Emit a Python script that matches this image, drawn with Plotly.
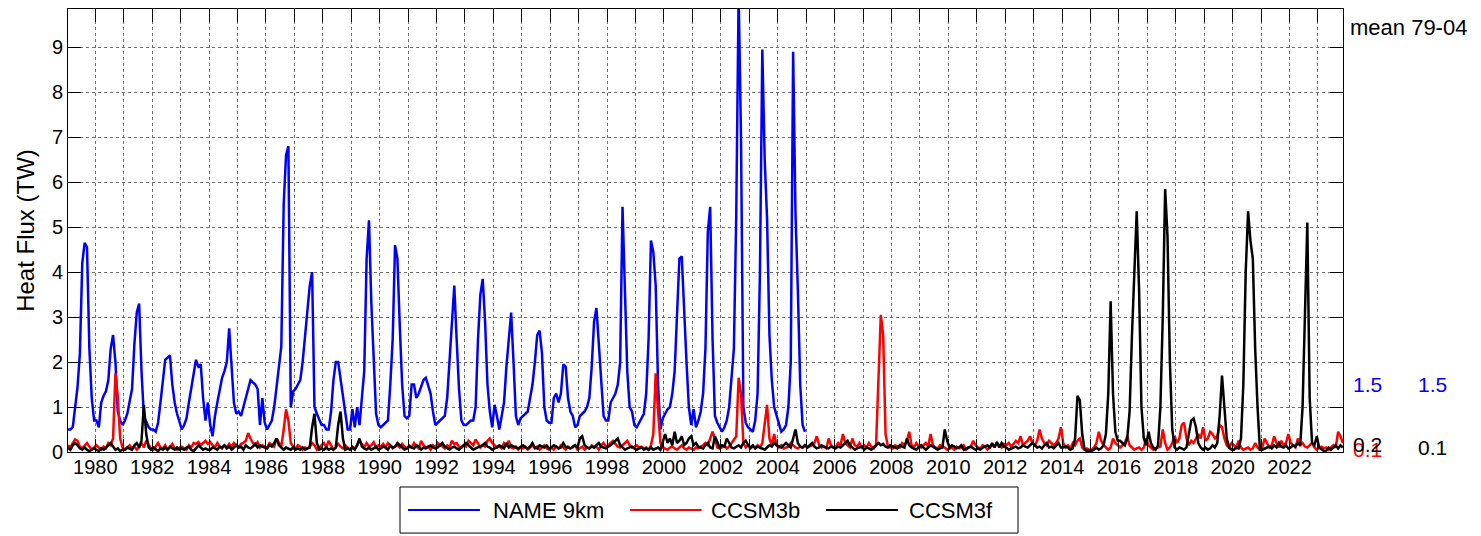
import plotly.graph_objects as go

# Monthly values, one row per year starting January 1979
name_9km = [
    [0.5, 0.5, 0.55, 1.0, 1.45, 2.2, 4.2, 4.65, 4.55, 2.3, 1.2, 0.7],      # 1979
    [0.7, 0.55, 1.1, 1.25, 1.35, 1.6, 2.3, 2.6, 2.0, 0.9, 0.7, 0.6],       # 1980
    [0.7, 0.85, 1.1, 1.4, 2.4, 3.1, 3.3, 1.8, 0.8, 0.65, 0.55, 0.5],       # 1981
    [0.5, 0.45, 0.65, 1.1, 1.6, 2.05, 2.1, 2.15, 1.5, 1.1, 0.85, 0.65],    # 1982
    [0.5, 0.6, 0.75, 1.1, 1.45, 1.8, 2.05, 1.9, 1.95, 1.2, 0.7, 1.1],      # 1983
    [0.6, 0.35, 0.8, 1.1, 1.4, 1.65, 1.8, 2.0, 2.75, 2.0, 1.1, 0.85],      # 1984
    [0.9, 0.8, 1.0, 1.25, 1.45, 1.6, 1.55, 1.5, 1.4, 0.6, 1.2, 0.65],      # 1985
    [0.5, 0.6, 0.7, 1.0, 1.5, 2.0, 2.35, 5.5, 6.6, 6.8, 1.0, 1.35],        # 1986
    [1.4, 1.5, 1.6, 2.0, 2.6, 3.2, 3.7, 4.0, 1.0, 0.85, 0.7, 0.6],         # 1987
    [0.6, 0.5, 0.5, 0.9, 1.6, 2.0, 2.0, 1.6, 1.2, 0.9, 0.5, 0.5],          # 1988
    [0.95, 0.55, 1.0, 0.6, 1.2, 1.8, 4.3, 5.15, 3.3, 1.9, 0.85, 0.6],      # 1989
    [0.55, 0.6, 0.65, 0.7, 1.5, 2.5, 4.6, 4.3, 2.8, 1.5, 0.8, 0.75],       # 1990
    [0.8, 1.5, 1.5, 1.2, 1.3, 1.45, 1.6, 1.65, 1.45, 1.3, 0.9, 0.6],       # 1991
    [0.65, 0.7, 0.75, 0.8, 1.2, 2.0, 3.0, 3.7, 2.5, 1.4, 0.7, 0.6],        # 1992
    [0.6, 0.65, 0.7, 0.7, 1.0, 2.5, 3.5, 3.85, 2.9, 1.5, 0.9, 0.55],       # 1993
    [1.05, 0.8, 0.5, 0.8, 1.1, 1.9, 2.6, 3.1, 2.0, 0.8, 0.6, 0.75],        # 1994
    [0.8, 0.85, 0.9, 1.2, 1.5, 2.0, 2.6, 2.7, 2.2, 1.0, 0.7, 0.65],        # 1995
    [0.65, 1.2, 1.3, 1.1, 1.3, 1.95, 1.9, 1.2, 0.9, 0.8, 0.55, 0.6],       # 1996
    [0.8, 0.85, 0.9, 1.0, 1.2, 1.9, 2.9, 3.2, 2.35, 1.6, 0.8, 0.7],        # 1997
    [0.7, 1.1, 1.2, 1.3, 1.5, 2.0, 5.45, 3.6, 1.8, 1.0, 0.9, 0.6],         # 1998
    [0.55, 0.65, 0.75, 0.85, 1.3, 2.5, 4.7, 4.45, 3.7, 1.5, 0.5, 0.75],    # 1999
    [0.85, 0.95, 1.0, 1.3, 1.8, 3.0, 4.3, 4.35, 3.0, 2.0, 1.0, 0.6],       # 2000
    [0.95, 0.55, 0.7, 0.9, 1.3, 2.3, 4.9, 5.45, 2.5, 0.8, 0.65, 0.55],     # 2001
    [0.45, 0.55, 0.7, 1.0, 1.6, 2.3, 5.3, 10.2, 7.0, 1.0, 0.65, 0.55],     # 2002
    [0.5, 0.45, 0.7, 1.3, 4.0, 8.95, 6.5, 5.2, 2.6, 1.6, 1.0, 0.8],        # 2003
    [0.6, 0.45, 0.5, 0.6, 1.0, 2.0, 8.9, 5.3, 3.6, 1.5, 0.6, 0.45],        # 2004
]

ccsm3b = [
    [0.15, 0.1, 0.2, 0.28, 0.25, 0.12, 0.08, 0.15, 0.2, 0.12, 0.05, 0.1],   # 1979
    [0.15, 0.1, 0.05, 0.12, 0.08, 0.2, 0.15, 0.3, 1.75, 1.2, 0.3, 0.1],     # 1980
    [0.05, 0.1, 0.15, 0.08, 0.12, 0.05, 0.1, 0.2, 0.1, 0.25, 0.15, 0.08],   # 1981
    [0.05, 0.12, 0.2, 0.1, 0.08, 0.15, 0.05, 0.1, 0.18, 0.08, 0.05, 0.1],   # 1982
    [0.12, 0.08, 0.05, 0.15, 0.1, 0.2, 0.18, 0.22, 0.15, 0.2, 0.25, 0.18],  # 1983
    [0.22, 0.15, 0.1, 0.2, 0.12, 0.08, 0.15, 0.1, 0.18, 0.12, 0.2, 0.15],   # 1984
    [0.1, 0.18, 0.2, 0.25, 0.42, 0.3, 0.2, 0.15, 0.22, 0.1, 0.15, 0.12],    # 1985
    [0.1, 0.2, 0.15, 0.12, 0.3, 0.2, 0.12, 0.5, 0.95, 0.7, 0.2, 0.12],      # 1986
    [0.08, 0.15, 0.12, 0.05, 0.1, 0.08, 0.12, 0.2, 0.15, 0.05, 0.1, 0.15],  # 1987
    [0.2, 0.1, 0.25, 0.15, 0.05, 0.1, 0.18, 0.12, 0.08, 0.15, 0.1, 0.05],   # 1988
    [0.12, 0.08, 0.15, 0.25, 0.18, 0.1, 0.2, 0.12, 0.15, 0.22, 0.1, 0.15],  # 1989
    [0.12, 0.18, 0.1, 0.2, 0.15, 0.08, 0.12, 0.15, 0.1, 0.18, 0.12, 0.08],  # 1990
    [0.15, 0.1, 0.2, 0.12, 0.08, 0.25, 0.15, 0.1, 0.12, 0.05, 0.15, 0.1],   # 1991
    [0.2, 0.15, 0.12, 0.08, 0.15, 0.1, 0.25, 0.18, 0.2, 0.12, 0.1, 0.15],   # 1992
    [0.12, 0.25, 0.2, 0.15, 0.28, 0.2, 0.1, 0.15, 0.12, 0.25, 0.3, 0.2],    # 1993
    [0.15, 0.1, 0.12, 0.08, 0.2, 0.15, 0.25, 0.1, 0.08, 0.12, 0.05, 0.1],   # 1994
    [0.08, 0.12, 0.05, 0.1, 0.15, 0.08, 0.12, 0.05, 0.1, 0.15, 0.08, 0.05], # 1995
    [0.1, 0.05, 0.12, 0.08, 0.15, 0.1, 0.05, 0.12, 0.08, 0.1, 0.15, 0.05],  # 1996
    [0.08, 0.12, 0.05, 0.1, 0.08, 0.15, 0.1, 0.12, 0.05, 0.15, 0.2, 0.12],  # 1997
    [0.15, 0.2, 0.25, 0.18, 0.12, 0.1, 0.15, 0.2, 0.25, 0.15, 0.1, 0.12],   # 1998
    [0.15, 0.1, 0.12, 0.08, 0.1, 0.05, 0.15, 0.4, 1.75, 0.9, 0.2, 0.1],     # 1999
    [0.08, 0.05, 0.1, 0.12, 0.08, 0.05, 0.1, 0.15, 0.08, 0.05, 0.1, 0.08],  # 2000
    [0.05, 0.1, 0.08, 0.12, 0.15, 0.2, 0.15, 0.3, 0.45, 0.3, 0.1, 0.08],    # 2001
    [0.1, 0.15, 0.08, 0.12, 0.2, 0.3, 0.35, 1.65, 1.3, 0.2, 0.1, 0.15],     # 2002
    [0.08, 0.12, 0.1, 0.15, 0.1, 0.2, 0.6, 1.05, 0.3, 0.15, 0.4, 0.15],     # 2003
    [0.1, 0.15, 0.08, 0.1, 0.12, 0.2, 0.15, 0.1, 0.08, 0.12, 0.1, 0.15],    # 2004
    [0.1, 0.12, 0.15, 0.2, 0.35, 0.15, 0.1, 0.12, 0.08, 0.3, 0.15, 0.1],    # 2005
    [0.12, 0.2, 0.15, 0.4, 0.2, 0.15, 0.1, 0.3, 0.15, 0.12, 0.2, 0.1],      # 2006
    [0.15, 0.1, 0.2, 0.12, 0.08, 0.15, 1.6, 3.05, 2.6, 0.4, 0.12, 0.1],     # 2007
    [0.08, 0.15, 0.12, 0.1, 0.2, 0.15, 0.25, 0.45, 0.15, 0.1, 0.2, 0.12],   # 2008
    [0.1, 0.15, 0.2, 0.12, 0.4, 0.15, 0.1, 0.08, 0.15, 0.12, 0.1, 0.05],    # 2009
    [0.08, 0.1, 0.05, 0.12, 0.08, 0.1, 0.15, 0.05, 0.1, 0.12, 0.25, 0.15],  # 2010
    [0.1, 0.08, 0.15, 0.12, 0.05, 0.1, 0.15, 0.12, 0.2, 0.15, 0.1, 0.18],   # 2011
    [0.15, 0.2, 0.12, 0.18, 0.25, 0.2, 0.35, 0.15, 0.2, 0.25, 0.35, 0.2],   # 2012
    [0.15, 0.25, 0.5, 0.3, 0.2, 0.15, 0.25, 0.2, 0.15, 0.2, 0.3, 0.55],     # 2013
    [0.2, 0.1, 0.15, 0.08, 0.2, 0.15, 0.25, 0.3, 0.1, 0.05, 0.08, 0.05],    # 2014
    [0.05, 0.1, 0.2, 0.45, 0.25, 0.15, 0.1, 0.05, 0.1, 0.3, 0.2, 0.15],     # 2015
    [0.1, 0.15, 0.2, 0.35, 0.15, 0.1, 0.05, 0.08, 0.1, 0.05, 0.1, 0.3],     # 2016
    [0.15, 0.1, 0.05, 0.08, 0.1, 0.12, 0.5, 0.2, 0.05, 0.1, 0.2, 0.35],     # 2017
    [0.2, 0.3, 0.6, 0.65, 0.3, 0.15, 0.25, 0.2, 0.3, 0.4, 0.3, 0.55],       # 2018
    [0.25, 0.3, 0.45, 0.4, 0.3, 0.35, 0.6, 0.55, 0.3, 0.15, 0.1, 0.2],      # 2019
    [0.15, 0.1, 0.25, 0.1, 0.05, 0.08, 0.1, 0.05, 0.08, 0.2, 0.1, 0.05],    # 2020
    [0.1, 0.3, 0.2, 0.1, 0.15, 0.35, 0.2, 0.1, 0.25, 0.15, 0.2, 0.4],       # 2021
    [0.2, 0.15, 0.1, 0.3, 0.15, 0.2, 0.12, 0.1, 0.15, 0.2, 0.1, 0.05],      # 2022
    [0.1, 0.12, 0.08, 0.1, 0.05, 0.1, 0.15, 0.1, 0.45, 0.35, 0.2],          # 2023
]

ccsm3f = [
    [0.1, 0.05, 0.15, 0.2, 0.15, 0.08, 0.05, 0.1, 0.05, 0.02, 0.05, 0.08],  # 1979
    [0.05, 0.02, 0.08, 0.05, 0.1, 0.15, 0.2, 0.12, 0.05, 0.08, 0.02, 0.05], # 1980
    [0.05, 0.1, 0.08, 0.05, 0.15, 0.2, 0.1, 0.25, 1.05, 0.4, 0.1, 0.05],    # 1981
    [0.1, 0.05, 0.02, 0.08, 0.05, 0.1, 0.05, 0.12, 0.08, 0.05, 0.1, 0.05],  # 1982
    [0.08, 0.05, 0.1, 0.12, 0.05, 0.02, 0.08, 0.15, 0.1, 0.05, 0.08, 0.05], # 1983
    [0.05, 0.1, 0.08, 0.05, 0.12, 0.1, 0.15, 0.08, 0.12, 0.05, 0.1, 0.15],  # 1984
    [0.1, 0.12, 0.05, 0.15, 0.1, 0.08, 0.12, 0.18, 0.1, 0.15, 0.12, 0.1],   # 1985
    [0.08, 0.15, 0.12, 0.2, 0.3, 0.15, 0.1, 0.05, 0.1, 0.08, 0.05, 0.1],    # 1986
    [0.05, 0.08, 0.05, 0.1, 0.05, 0.08, 0.1, 0.55, 0.85, 0.2, 0.05, 0.08],  # 1987
    [0.05, 0.1, 0.05, 0.08, 0.05, 0.1, 0.6, 0.9, 0.3, 0.05, 0.08, 0.05],    # 1988
    [0.1, 0.05, 0.15, 0.3, 0.12, 0.08, 0.05, 0.1, 0.05, 0.08, 0.12, 0.05],  # 1989
    [0.08, 0.12, 0.1, 0.05, 0.15, 0.1, 0.12, 0.2, 0.15, 0.1, 0.05, 0.08],   # 1990
    [0.12, 0.1, 0.08, 0.15, 0.12, 0.05, 0.1, 0.08, 0.12, 0.15, 0.1, 0.08],  # 1991
    [0.1, 0.15, 0.2, 0.12, 0.08, 0.05, 0.1, 0.12, 0.08, 0.05, 0.1, 0.15],   # 1992
    [0.2, 0.15, 0.1, 0.05, 0.08, 0.1, 0.12, 0.15, 0.2, 0.12, 0.1, 0.05],    # 1993
    [0.08, 0.1, 0.15, 0.12, 0.08, 0.2, 0.1, 0.15, 0.12, 0.1, 0.08, 0.12],   # 1994
    [0.15, 0.1, 0.08, 0.12, 0.2, 0.1, 0.08, 0.15, 0.12, 0.1, 0.15, 0.08],   # 1995
    [0.1, 0.15, 0.12, 0.08, 0.1, 0.2, 0.12, 0.1, 0.08, 0.12, 0.15, 0.1],    # 1996
    [0.3, 0.35, 0.15, 0.1, 0.08, 0.12, 0.1, 0.15, 0.2, 0.12, 0.1, 0.08],    # 1997
    [0.12, 0.15, 0.2, 0.25, 0.3, 0.15, 0.1, 0.05, 0.08, 0.1, 0.12, 0.08],   # 1998
    [0.05, 0.08, 0.1, 0.05, 0.08, 0.05, 0.1, 0.05, 0.08, 0.1, 0.05, 0.2],   # 1999
    [0.4, 0.2, 0.3, 0.15, 0.45, 0.2, 0.25, 0.35, 0.15, 0.2, 0.3, 0.35],     # 2000
    [0.15, 0.2, 0.12, 0.1, 0.08, 0.15, 0.2, 0.1, 0.08, 0.35, 0.2, 0.1],     # 2001
    [0.15, 0.12, 0.3, 0.2, 0.1, 0.08, 0.12, 0.15, 0.1, 0.2, 0.25, 0.15],    # 2002
    [0.1, 0.15, 0.08, 0.12, 0.1, 0.08, 0.05, 0.1, 0.15, 0.12, 0.2, 0.15],   # 2003
    [0.12, 0.1, 0.15, 0.2, 0.15, 0.1, 0.3, 0.5, 0.2, 0.12, 0.1, 0.15],      # 2004
    [0.1, 0.15, 0.2, 0.12, 0.08, 0.1, 0.15, 0.12, 0.1, 0.08, 0.12, 0.1],    # 2005
    [0.08, 0.12, 0.1, 0.15, 0.2, 0.25, 0.15, 0.1, 0.05, 0.08, 0.1, 0.12],   # 2006
    [0.05, 0.1, 0.08, 0.05, 0.1, 0.15, 0.2, 0.15, 0.18, 0.12, 0.1, 0.15],   # 2007
    [0.12, 0.1, 0.08, 0.15, 0.12, 0.1, 0.3, 0.15, 0.1, 0.08, 0.05, 0.1],    # 2008
    [0.15, 0.1, 0.05, 0.1, 0.15, 0.12, 0.08, 0.05, 0.08, 0.1, 0.5, 0.25],   # 2009
    [0.1, 0.15, 0.12, 0.08, 0.1, 0.15, 0.05, 0.08, 0.1, 0.12, 0.08, 0.05],  # 2010
    [0.08, 0.05, 0.1, 0.12, 0.15, 0.1, 0.2, 0.1, 0.22, 0.1, 0.2, 0.12],     # 2011
    [0.1, 0.05, 0.08, 0.1, 0.12, 0.08, 0.1, 0.15, 0.12, 0.1, 0.15, 0.2],    # 2012
    [0.15, 0.1, 0.12, 0.08, 0.15, 0.2, 0.1, 0.12, 0.08, 0.15, 0.2, 0.1],    # 2013
    [0.1, 0.12, 0.1, 0.05, 0.08, 0.3, 1.25, 1.15, 0.4, 0.05, 0.02, 0.03],   # 2014
    [0.03, 0.05, 0.1, 0.05, 0.08, 0.15, 0.4, 1.3, 3.35, 1.3, 0.45, 0.25],   # 2015
    [0.25, 0.2, 0.15, 0.3, 0.9, 2.6, 4.0, 5.35, 3.6, 1.0, 0.3, 0.15],       # 2016
    [0.45, 0.2, 0.1, 0.05, 0.15, 1.0, 3.0, 5.85, 4.8, 2.0, 0.5, 0.1],       # 2017
    [0.05, 0.1, 0.08, 0.05, 0.1, 0.45, 0.7, 0.75, 0.55, 0.2, 0.1, 0.05],    # 2018
    [0.1, 0.05, 0.08, 0.15, 0.1, 0.2, 0.8, 1.7, 1.0, 0.3, 0.1, 0.05],       # 2019
    [0.05, 0.1, 0.08, 0.3, 1.5, 4.0, 5.35, 4.7, 4.3, 2.3, 1.0, 0.05],       # 2020
    [0.05, 0.08, 0.1, 0.12, 0.08, 0.15, 0.1, 0.2, 0.12, 0.1, 0.15, 0.08],   # 2021
    [0.1, 0.15, 0.12, 0.2, 0.15, 1.0, 3.0, 5.1, 1.2, 0.2, 0.15, 0.35],      # 2022
    [0.1, 0.05, 0.02, 0.03, 0.1, 0.05, 0.1, 0.15, 0.08, 0.15, 0.1],         # 2023
]

start_year = 1979
series_names = ["NAME 9km", "CCSM3b", "CCSM3f"]
series_colors = ["#0000ff", "#ff0000", "#000000"]
year_ticks = list(range(1980, 2023, 2))
side_labels = ["mean 79-04", "1.5", "1.5", "0.1", "0.2", "0.1"]


def flatten(rows):
    return [v for row in rows for v in row]


def month_axis(n):
    return [start_year + (k + 0.5) / 12.0 for k in range(n)]


fig = go.Figure()
for rows, name, color in zip([name_9km, ccsm3b, ccsm3f], series_names, series_colors):
    vals = flatten(rows)
    fig.add_trace(go.Scatter(
        x=month_axis(len(vals)), y=vals, mode="lines", name=name,
        line=dict(color=color, width=2.5), showlegend=False,
    ))

font_main = "Liberation Sans, Arial, Helvetica, sans-serif"
grid_col = "#707070"

# The page body has an 8px margin, so the figure is offset by 8px
fig.update_layout(
    width=1473, height=528,
    margin=dict(l=60, r=138, t=1, b=84),
    paper_bgcolor="white", plot_bgcolor="white",
    font=dict(family=font_main, size=20, color="black"),
    showlegend=False,
    xaxis=dict(
        range=[1979.04, 2023.88], tickmode="array", tickvals=year_ticks,
        ticktext=[str(y) for y in year_ticks],
        ticks="inside", ticklen=13, tickcolor="black", tickwidth=1,
        showline=True, linecolor="black", linewidth=1, mirror="ticks",
        showgrid=True, gridcolor=grid_col, griddash="dot", gridwidth=1,
        zeroline=False, ticklabelstandoff=-3,
        minor=dict(dtick=1, tick0=1979, ticks="inside", ticklen=13, tickcolor="black",
                   showgrid=True, gridcolor=grid_col, griddash="dot", gridwidth=1),
        tickfont=dict(size=20),
    ),
    yaxis=dict(
        range=[0, 9.85], dtick=1, tick0=0,
        ticks="inside", ticklen=13, tickcolor="black", tickwidth=1,
        showline=True, linecolor="black", linewidth=1, mirror="ticks",
        showgrid=True, gridcolor=grid_col, griddash="dot", gridwidth=1,
        zeroline=False,
        title=dict(text="Heat Flux (TW)", font=dict(size=24), standoff=10),
        tickfont=dict(size=20),
    ),
)

# Legend box drawn below the axes (paper coordinates)
leg_x0, leg_x1, leg_y0, leg_y1 = 0.2604, 0.7451, -0.079, -0.183
leg_ymid = (leg_y0 + leg_y1) / 2
fig.add_shape(type="rect", xref="paper", yref="paper", x0=leg_x0, x1=leg_x1,
              y0=leg_y0, y1=leg_y1, line=dict(color="black", width=1),
              fillcolor="white")
leg_line_x = [(0.2667, 0.3231), (0.4408, 0.4969), (0.5945, 0.6510)]
leg_text_x = [0.3318, 0.5027, 0.6580]
for (lx0, lx1), tx, name, color in zip(leg_line_x, leg_text_x, series_names, series_colors):
    fig.add_shape(type="line", xref="paper", yref="paper", x0=lx0, x1=lx1,
                  y0=leg_ymid, y1=leg_ymid, line=dict(color=color, width=2))
    fig.add_annotation(text=name, x=tx, y=leg_ymid, xref="paper", yref="paper",
                       xanchor="left", yanchor="middle", showarrow=False,
                       font=dict(size=22, color="black", family=font_main))

# Side annotations (means 1979-2004)
side_pos = [(1.004, 0.958, "black", 22), (1.006, 0.153, "#0000ff", 21),
            (1.057, 0.153, "#0000ff", 21), (1.006, 0.006, "#ff0000", 21),
            (1.006, 0.017, "black", 21), (1.057, 0.010, "black", 21)]
for text, (xp, yp, col, fs) in zip(side_labels, side_pos):
    fig.add_annotation(text=text, x=xp, y=yp, xref="paper", yref="paper",
                       xanchor="left", yanchor="middle", showarrow=False,
                       font=dict(size=fs, color=col, family=font_main))

fig.write_html("out.html")
